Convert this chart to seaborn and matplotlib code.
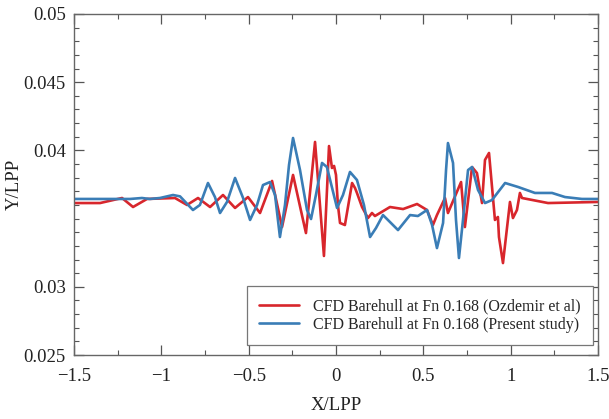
import numpy as np
import pandas as pd
import matplotlib
matplotlib.use("Agg")
import matplotlib.pyplot as plt
from matplotlib.ticker import MultipleLocator
import seaborn as sns

# ---- data ----
blue_x = [-1.500, -1.179, -1.111, -1.065, -1.008, -0.933, -0.893, -0.819, -0.779, -0.733, -0.693,
          -0.664, -0.624, -0.578, -0.532, -0.492, -0.452, -0.418, -0.378, -0.349, -0.321, -0.292,
          -0.269, -0.246, -0.206, -0.166, -0.143, -0.115, -0.080, -0.052, 0.006, 0.040, 0.080,
          0.120, 0.160, 0.195, 0.229, 0.269, 0.309, 0.355, 0.424, 0.469, 0.521, 0.550, 0.578,
          0.613, 0.630, 0.641, 0.670, 0.687, 0.704, 0.727, 0.756, 0.779, 0.813, 0.853, 0.893,
          0.968, 1.042, 1.139, 1.237, 1.311, 1.408, 1.500]
blue_y = [0.03644, 0.03644, 0.03651, 0.03644, 0.03651, 0.03673, 0.03663, 0.03563, 0.03600, 0.03761,
          0.03658, 0.03541, 0.03622, 0.03798, 0.03651, 0.03490, 0.03600, 0.03746, 0.03768, 0.03673,
          0.03365, 0.03600, 0.03893, 0.04091, 0.03856, 0.03563, 0.03497, 0.03673, 0.03908, 0.03878,
          0.03578, 0.03673, 0.03842, 0.03783, 0.03600, 0.03365, 0.03431, 0.03526, 0.03475, 0.03416,
          0.03526, 0.03519, 0.03563, 0.03453, 0.03284, 0.03468, 0.03856, 0.04054, 0.03908, 0.03490,
          0.03211, 0.03490, 0.03856, 0.03878, 0.03710, 0.03614, 0.03636, 0.03761, 0.03732, 0.03688,
          0.03688, 0.03658, 0.03644, 0.03644]

red_x = [-1.500, -1.351, -1.225, -1.162, -1.082, -0.922, -0.853, -0.790, -0.721, -0.647, -0.578,
         -0.504, -0.435, -0.366, -0.309, -0.246, -0.172, -0.120, -0.069, -0.040, -0.023, -0.011,
         0.000, 0.011, 0.023, 0.051, 0.092, 0.109, 0.120, 0.149, 0.183, 0.206, 0.223, 0.309, 0.384,
         0.464, 0.521, 0.555, 0.578, 0.624, 0.641, 0.716, 0.738, 0.779, 0.807, 0.836, 0.853, 0.876,
         0.910, 0.927, 0.933, 0.956, 0.996, 1.013, 1.036, 1.053, 1.065, 1.214, 1.500]
red_y = [0.03614, 0.03614, 0.03651, 0.03585, 0.03644, 0.03651, 0.03600, 0.03651, 0.03585, 0.03673,
         0.03578, 0.03658, 0.03541, 0.03776, 0.03438, 0.03820, 0.03394, 0.04062, 0.03226, 0.04032,
         0.03871, 0.03886, 0.03820, 0.03600, 0.03468, 0.03453, 0.03761, 0.03724, 0.03688, 0.03585,
         0.03504, 0.03541, 0.03519, 0.03585, 0.03570, 0.03607, 0.03563, 0.03453, 0.03526, 0.03651,
         0.03541, 0.03768, 0.03438, 0.03878, 0.03834, 0.03614, 0.03930, 0.03981, 0.03490, 0.03512,
         0.03365, 0.03174, 0.03622, 0.03504, 0.03563, 0.03688, 0.03651, 0.03614, 0.03622]

labels = ["CFD Barehull at Fn 0.168 (Ozdemir et al)", "CFD Barehull at Fn 0.168 (Present study)"]
x_ticks = [-1.5, -1, -0.5, 0, 0.5, 1, 1.5]
x_ticklabels = ["\u22121.5", "\u22121", "\u22120.5", "0", "0.5", "1", "1.5"]
y_ticks = [0.025, 0.03, 0.04, 0.045, 0.05]
y_ticklabels = ["0.025", "0.03", "0.04", "0.045", "0.05"]

df = pd.concat([
    pd.DataFrame({"x": red_x, "y": red_y, "series": labels[0]}),
    pd.DataFrame({"x": blue_x, "y": blue_y, "series": labels[1]}),
], ignore_index=True)

sns.set_theme(style="ticks")
plt.rcParams["font.family"] = ["Liberation Serif", "DejaVu Serif"]

fig = plt.figure(figsize=(6.09, 4.19), dpi=100)
ax = fig.add_axes([74/609, 1-355/419, (598-74)/609, (355-14)/419])

palette = {labels[0]: "#d8262c", labels[1]: "#3a7db6"}
sns.lineplot(data=df, x="x", y="y", hue="series", palette=palette, estimator=None,
             sort=False, linewidth=1.9, ax=ax, legend=False)

ax.set_xlim(-1.5, 1.5)
ax.set_ylim(0.025, 0.05)
ax.set_xticks(x_ticks)
ax.set_xticklabels(x_ticklabels)
ax.set_yticks(y_ticks)
ax.set_yticklabels(y_ticklabels)
ax.xaxis.set_minor_locator(MultipleLocator(0.25))
ax.yaxis.set_minor_locator(MultipleLocator(0.001))
ax.tick_params(which="both", direction="in", top=True, right=True, colors="#555555",
               labelcolor="#222222", labelsize=13.5)
ax.tick_params(which="major", length=7, width=0.9)
ax.tick_params(which="minor", length=3.5, width=0.8)
ax.tick_params(axis="x", which="major", pad=9)
ax.tick_params(axis="y", which="major", pad=6)
for s in ax.spines.values():
    s.set_color("#666666")
    s.set_linewidth(1.0)

ax.set_xlabel("X/LPP", fontsize=13.5, color="#222222")
ax.set_ylabel("Y/LPP", fontsize=13.5, color="#222222")
ax.xaxis.set_label_coords(0.5, -0.147, transform=ax.transAxes)
ax.yaxis.set_label_coords(-0.114, 0.5, transform=ax.transAxes)
ax.xaxis.label.set_va("center")
ax.yaxis.label.set_va("center")

handles = [plt.Line2D([], [], color=palette[l], linewidth=1.9) for l in labels]
leg = ax.legend(handles, labels, loc="lower right", bbox_to_anchor=(0.99, 0.03),
                borderaxespad=0, fancybox=False, framealpha=1, edgecolor="#777777",
                fontsize=11.5, handlelength=2.5, handletextpad=0.9, borderpad=0.75,
                labelspacing=0.15)
leg.get_frame().set_linewidth(0.9)

fig.savefig("out.png", dpi=100)
